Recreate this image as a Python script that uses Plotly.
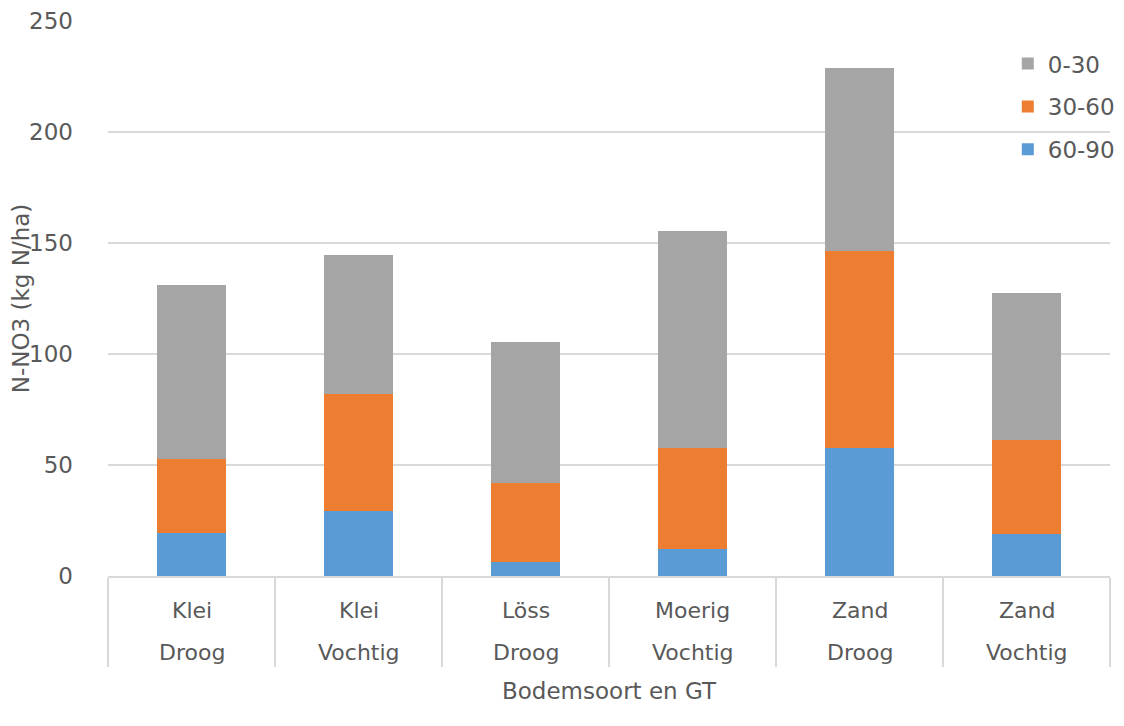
import plotly.graph_objects as go

# bodemsoort en grondwatertrap per kolom
bodemsoort = ["Klei", "Klei", "Löss", "Moerig", "Zand", "Zand"]
gt = ["Droog", "Vochtig", "Droog", "Vochtig", "Droog", "Vochtig"]

# N-NO3 per laag (kg N/ha)
laag_60_90 = [19.5, 29.1, 6.3, 12.3, 57.7, 19.1]
laag_30_60 = [33.4, 52.7, 35.6, 45.5, 88.7, 42.3]
laag_0_30 = [78.2, 62.8, 63.5, 97.6, 82.6, 65.9]

text_kleur = "#595959"
lijn_kleur = "#D9D9D9"
fs = 23

# unieke categorie per kolom, labels komen via annotaties (twee rijen)
kolommen = [f"{b} {g}" for b, g in zip(bodemsoort, gt)]

fig = go.Figure()
fig.add_trace(go.Bar(x=kolommen, y=laag_60_90, name="60-90", marker_color="#5B9BD5",
                     legendgroup="c", legendrank=3, marker_line_width=0))
fig.add_trace(go.Bar(x=kolommen, y=laag_30_60, name="30-60", marker_color="#ED7D31",
                     legendgroup="b", legendrank=2, marker_line_width=0))
fig.add_trace(go.Bar(x=kolommen, y=laag_0_30, name="0-30", marker_color="#A5A5A5",
                     legendgroup="a", legendrank=1, marker_line_width=0))

# twee rijen categorie-labels onder de as
annotaties = []
for k, b, g in zip(kolommen, bodemsoort, gt):
    annotaties.append(dict(x=k, y=-0.0613, xref="x", yref="paper", text=b,
                           showarrow=False, yanchor="middle",
                           font=dict(size=22, color=text_kleur)))
    annotaties.append(dict(x=k, y=-0.1387, xref="x", yref="paper", text=g,
                           showarrow=False, yanchor="middle",
                           font=dict(size=22, color=text_kleur)))
annotaties.append(dict(x=0.5, y=-0.207, xref="paper", yref="paper",
                       text="Bodemsoort en GT", showarrow=False, yanchor="middle",
                       font=dict(size=fs, color=text_kleur)))

fig.update_layout(
    barmode="stack",
    bargap=0.585,
    width=1124, height=726,
    margin=dict(l=100, r=22, t=13, b=158),
    plot_bgcolor="white",
    paper_bgcolor="white",
    font=dict(family="DejaVu Sans", size=fs, color=text_kleur),
    annotations=annotaties,
    legend=dict(x=0.898, y=0.962, xanchor="left", yanchor="top",
                traceorder="grouped", tracegroupgap=10,
                font=dict(size=fs, color=text_kleur),
                bgcolor="rgba(0,0,0,0)"),
    xaxis=dict(
        type="category", automargin=False,
        showline=True, linecolor=lijn_kleur, linewidth=1.5,
        tickson="boundaries", ticks="outside", ticklen=89,
        tickcolor=lijn_kleur, tickwidth=1.5,
        showticklabels=False,
    ),
    yaxis=dict(
        range=[0, 250], dtick=50, automargin=False,
        showgrid=True, gridcolor=lijn_kleur, gridwidth=1.5,
        zeroline=False, showline=False, ticks="",
        ticklabelstandoff=34,
        tickfont=dict(size=fs, color=text_kleur),
        title=dict(text="N-NO3 (kg N/ha)", standoff=0,
                   font=dict(size=fs, color=text_kleur)),
    ),
)

fig.write_html("out.html")
